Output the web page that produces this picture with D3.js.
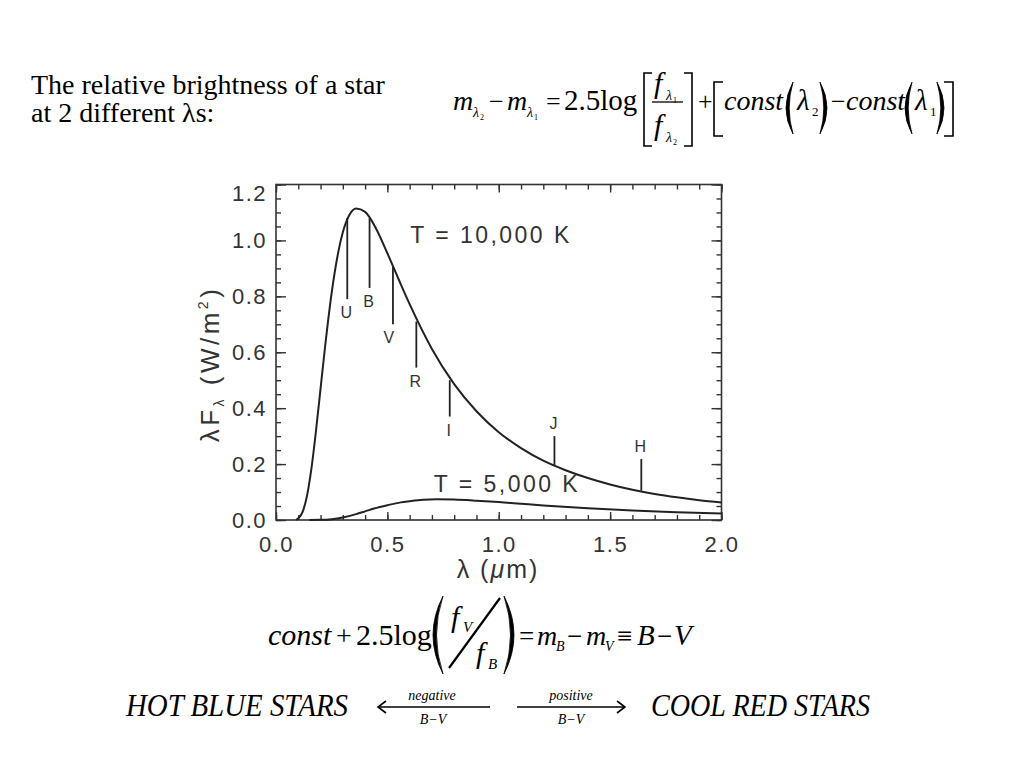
<!DOCTYPE html>
<html><head><meta charset="utf-8">
<script src="https://cdn.jsdelivr.net/npm/d3@7"></script>
<style>body{margin:0;background:#fff}</style>
</head><body><svg id="c" width="1024" height="768"></svg>
<script>
// ---- data ----
const lambda10k = [0.09,0.10,0.12,0.14,0.16,0.18,0.20,0.22,0.25,0.28,0.30,0.33,0.36,0.40,0.45,0.50,0.55,0.60,0.70,0.80,0.90,1.0,1.1,1.2,1.3,1.4,1.5,1.6,1.7,1.8,1.9,2.0];
const flux10k   = [0.0,0.006,0.030,0.090,0.190,0.322,0.470,0.617,0.813,0.960,1.029,1.092,1.114,1.102,1.041,0.954,0.862,0.772,0.612,0.486,0.389,0.314,0.257,0.212,0.178,0.150,0.127,0.108,0.093,0.081,0.071,0.063];
const lambda5k  = [0.15,0.20,0.25,0.30,0.36,0.40,0.44,0.50,0.56,0.60,0.66,0.72,0.80,0.90,1.0,1.1,1.2,1.4,1.6,1.8,2.0];
const flux5k    = [0.0,0.0005,0.003,0.009,0.021,0.031,0.041,0.053,0.063,0.067,0.072,0.074,0.073,0.069,0.064,0.058,0.052,0.042,0.034,0.028,0.023];
const bandNames  = ["U","B","V","R","I","J","H"];
const bandLambda = [0.32,0.42,0.525,0.63,0.78,1.25,1.64];
const bandHigh   = [1.08,1.08,0.905,0.71,0.50,0.30,0.218];
const bandLow    = [0.79,0.83,0.70,0.545,0.37,0.196,0.105];
const bandLabelAbove = [false,false,false,false,false,true,true];
const xTicks = [0,0.5,1.0,1.5,2.0];
const yTicks = [0,0.2,0.4,0.6,0.8,1.0,1.2];
const xMinor = d3.range(0,21).map(i=>i/10);
const yMinor = d3.range(0,25).map(i=>i/20);
const curveLabels = ["T = 10,000 K","T = 5,000 K"];

// ---- layout ----
const svg = d3.select("#c");
const SANS = "'Liberation Sans', Arial, Helvetica, sans-serif";
const SERIF = "'Liberation Serif','Times New Roman', serif";
const INK = "#222";
const x = d3.scaleLinear().domain([0,2]).range([276,721.5]);
const y = d3.scaleLinear().domain([0,1.2]).range([520,184.5]);

const plot = svg.append("g");
function axisStyle(g){
  g.select(".domain").remove();
  g.selectAll("line").attr("stroke","#333").attr("stroke-width",1.4);
  g.selectAll("text").attr("font-family",SANS).attr("font-size",22).attr("fill","#333").attr("letter-spacing","1.5px");
}
// left
plot.append("g").attr("transform",`translate(${x(0)},0)`)
  .call(d3.axisLeft(y).tickValues(yMinor).tickSize(-5).tickFormat("")).call(axisStyle);
const leftAx = plot.append("g").attr("transform",`translate(${x(0)},0)`)
  .call(d3.axisLeft(y).tickValues(yTicks).tickSize(-10).tickPadding(9).tickFormat(d3.format(".1f"))).call(axisStyle);
leftAx.selectAll(".tick text").filter(d=>d===1.2).attr("y",-1).attr("dy","0.75em");
// right
plot.append("g").attr("transform",`translate(${x(2)},0)`)
  .call(d3.axisRight(y).tickValues(yMinor).tickSize(-5).tickFormat("")).call(axisStyle);
plot.append("g").attr("transform",`translate(${x(2)},0)`)
  .call(d3.axisRight(y).tickValues(yTicks).tickSize(-10).tickFormat("")).call(axisStyle);
// bottom
plot.append("g").attr("transform",`translate(0,${y(0)})`)
  .call(d3.axisBottom(x).tickValues(xMinor).tickSize(-5).tickFormat("")).call(axisStyle);
plot.append("g").attr("transform",`translate(0,${y(0)})`)
  .call(d3.axisBottom(x).tickValues(xTicks).tickSize(-8).tickPadding(16).tickFormat(d3.format(".1f"))).call(axisStyle);
// top
plot.append("g").attr("transform",`translate(0,${y(1.2)})`)
  .call(d3.axisTop(x).tickValues(xMinor).tickSize(-5).tickFormat("")).call(axisStyle);
plot.append("g").attr("transform",`translate(0,${y(1.2)})`)
  .call(d3.axisTop(x).tickValues(xTicks).tickSize(-8).tickFormat("")).call(axisStyle);
// frame
plot.append("rect").attr("x",x(0)).attr("y",y(1.2)).attr("width",x(2)-x(0)).attr("height",y(0)-y(1.2))
  .attr("fill","none").attr("stroke","#333").attr("stroke-width",1.6);

// curves
const line = d3.line().x(d=>x(d[0])).y(d=>y(d[1])).curve(d3.curveMonotoneX);
plot.append("path").datum(d3.zip(lambda10k,flux10k)).attr("d",line)
  .attr("fill","none").attr("stroke",INK).attr("stroke-width",2);
plot.append("path").datum(d3.zip(lambda5k,flux5k)).attr("d",line)
  .attr("fill","none").attr("stroke",INK).attr("stroke-width",2);

// band markers
bandNames.forEach((nm,i)=>{
  plot.append("line").attr("x1",x(bandLambda[i])).attr("x2",x(bandLambda[i]))
    .attr("y1",y(bandHigh[i])).attr("y2",y(bandLow[i])).attr("stroke",INK).attr("stroke-width",1.8);
  plot.append("text").attr("x",x(bandLambda[i]) - (nm==="V"?4:1))
    .attr("y", bandLabelAbove[i] ? y(bandHigh[i]) - 7 : y(bandLow[i]) + 19)
    .attr("text-anchor","middle").attr("font-family",SANS).attr("font-size",16).attr("fill","#333").text(nm);
});

// curve labels
plot.append("text").attr("x",x(0.603)).attr("y",y(0.99)).attr("font-family",SANS).attr("font-size",23)
  .attr("fill","#333").attr("textLength",159).attr("lengthAdjust","spacing").text(curveLabels[0]);
plot.append("text").attr("x",x(0.708)).attr("y",y(0.10)).attr("font-family",SANS).attr("font-size",23)
  .attr("fill","#333").attr("textLength",144).attr("lengthAdjust","spacing").text(curveLabels[1]);

// axis titles
const xl = plot.append("text").attr("x",498).attr("y",578).attr("text-anchor","middle")
  .attr("font-family",SANS).attr("font-size",25).attr("letter-spacing","2px").attr("fill","#333");
xl.append("tspan").text("λ (");
xl.append("tspan").attr("font-style","italic").text("μ");
xl.append("tspan").text("m)");
const yl = plot.append("text").attr("transform","translate(219,364) rotate(-90)").attr("text-anchor","middle")
  .attr("font-family",SANS).attr("font-size",26).attr("letter-spacing","3.5px").attr("fill","#333");
yl.append("tspan").text("λF");
yl.append("tspan").attr("font-size",14).attr("dy",5).text("λ");
yl.append("tspan").attr("dy",-5).text(" (W/m");
yl.append("tspan").attr("font-size",14).attr("dy",-11).text("2");
yl.append("tspan").attr("dy",11).text(")");

// ---- text & formulas ----
function T(xp, yp, s, size, opts={}){
  const t = svg.append("text").attr("x",xp).attr("y",yp).attr("font-family",SERIF)
    .attr("font-size",size).attr("fill","#000").text(s);
  if(opts.italic) t.attr("font-style","italic");
  if(opts.anchor) t.attr("text-anchor",opts.anchor);
  if(opts.len) t.attr("textLength",opts.len).attr("lengthAdjust","spacingAndGlyphs");
  return t;
}
function paren(xl, y0, y1, left, b, th){
  const ym=(y0+y1)/2;
  let d;
  if(left){
    d=`M${xl+b},${y0} Q${xl-b},${ym} ${xl+b},${y1} Q${xl-b+2*th},${ym} ${xl+b},${y0} Z`;
  } else {
    d=`M${xl},${y0} Q${xl+2*b},${ym} ${xl},${y1} Q${xl+2*b-2*th},${ym} ${xl},${y0} Z`;
  }
  svg.append("path").attr("d",d).attr("fill","#000").attr("stroke","#000").attr("stroke-width",0.8);
}
function bracket(xp, y0, y1, left, w){
  const d = left ? `M${xp+w},${y0} H${xp} V${y1} H${xp+w}` : `M${xp-w},${y0} H${xp} V${y1} H${xp-w}`;
  svg.append("path").attr("d",d).attr("fill","none").attr("stroke","#000").attr("stroke-width",1.6);
}

T(31,94,"The relative brightness of a star",28);
T(31,122,"at 2 different λs:",28);

// top formula
const b1 = 110;
T(453,b1,"m",28,{italic:true}); T(473,b1+7,"λ",14,{italic:true}); T(480,b1+10,"2",8);
T(489,b1,"−",26);
T(507,b1,"m",28,{italic:true}); T(527,b1+7,"λ",14,{italic:true}); T(534,b1+10,"1",8);
T(546,b1,"=",26);
T(564,b1,"2.5log",29);
bracket(644,73,146,true,8);
T(654,b1-17,"f",30,{italic:true}); T(666,b1-10,"λ",14,{italic:true}); T(673,b1-7,"1",8);
svg.append("line").attr("x1",652).attr("x2",683).attr("y1",b1-8).attr("y2",b1-8).attr("stroke","#000").attr("stroke-width",1.3);
T(654,b1+25,"f",30,{italic:true}); T(666,b1+32,"λ",14,{italic:true}); T(673,b1+35,"2",8);
bracket(692,73,146,false,8);
T(698,b1,"+",26);
bracket(714,82,136,true,9);
T(724,b1,"const",28,{italic:true});
paren(786,82,134,true,7,3.2);
T(797,b1,"λ",29,{italic:true}); T(812,b1+6,"2",13);
paren(820,82,134,false,7,3.2);
T(831,b1,"−",26);
T(846,b1,"const",28,{italic:true});
paren(905,82,134,true,7,3.2);
T(915,b1,"λ",29,{italic:true}); T(930,b1+6,"1",13);
paren(937,82,134,false,7,3.2);
bracket(953,82,136,false,9);

// bottom formula
const b2 = 645;
T(268,b2,"const",30,{italic:true});
T(336,b2,"+",28);
T(356,b2,"2.5log",30);
paren(433,596,674,true,10,3.5);
T(451,b2-18,"f",30,{italic:true}); T(463,b2-13,"V",15,{italic:true});
svg.append("line").attr("x1",500).attr("y1",598).attr("x2",449).attr("y2",668).attr("stroke","#000").attr("stroke-width",2.2);
T(476,b2+18,"f",30,{italic:true}); T(488,b2+24,"B",15,{italic:true});
paren(504,596,674,false,10,3.5);
T(519,b2,"=",27);
T(537,b2,"m",28,{italic:true}); T(556,b2+6,"B",14,{italic:true});
T(567,b2,"−",27);
T(586,b2,"m",28,{italic:true}); T(605,b2+6,"V",14,{italic:true});
T(617,b2,"≡",27);
T(637,b2,"B",29,{italic:true});
T(657,b2,"−",27);
T(674,b2,"V",29,{italic:true});

// bottom row
const b3 = 716;
T(126,b3,"HOT  BLUE STARS",31,{italic:true,len:222});
T(651,b3,"COOL RED STARS",31,{italic:true,len:219});
function arrow(x0,x1,yy){
  svg.append("line").attr("x1",x0).attr("x2",x1).attr("y1",yy).attr("y2",yy).attr("stroke","#000").attr("stroke-width",1.6);
  const s = x1>x0?-1:1;
  svg.append("path").attr("d",`M${x1+s*8},${yy-6} L${x1},${yy} L${x1+s*8},${yy+6}`).attr("fill","none").attr("stroke","#000").attr("stroke-width",1.6);
}
arrow(490,378,707);
arrow(517,625,707);
T(432,700,"negative",14,{italic:true,anchor:"middle"});
T(433,724,"B−V",14,{italic:true,anchor:"middle"});
T(571,700,"positive",14,{italic:true,anchor:"middle"});
T(571,724,"B−V",14,{italic:true,anchor:"middle"});
</script></body></html>
